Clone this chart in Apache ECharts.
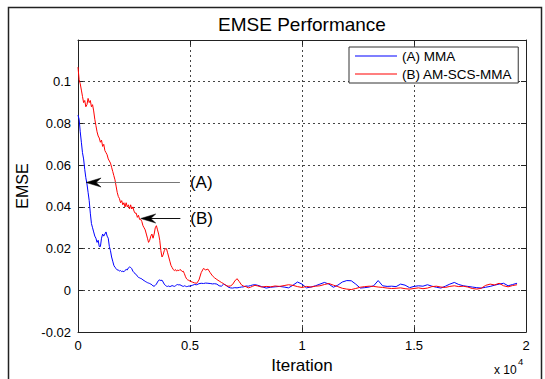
<!DOCTYPE html>
<html>
<head>
<meta charset="utf-8">
<script src="https://cdn.jsdelivr.net/npm/echarts@6/dist/echarts.min.js"></script>
<style>
html,body{margin:0;padding:0;background:#fff;}
#c{width:545px;height:379px;}
</style>
</head>
<body>
<div id="c"></div>
<script>
// ---------- DATA ----------
const iterations = [
  0,50,100,150,200,250,300,350,400,450,500,550,600,650,700,750,800,850,900,950,
  1000,1050,1100,1150,1200,1250,1300,1350,1400,1450,1500,1550,1600,1650,1700,1750,1800,1850,1900,1950,
  2000,2050,2100,2150,2200,2250,2300,2350,2400,2450,2500,2550,2600,2650,2700,2750,2800,2850,2900,2950,
  3000,3050,3100,3150,3200,3250,3300,3350,3400,3450,3500,3550,3600,3650,3700,3750,3800,3850,3900,3950,
  4000,4050,4100,4150,4200,4250,4300,4350,4400,4450,4500,4550,4600,4650,4700,4750,4800,4850,4900,4950,
  5000,5100,5200,5300,5400,5500,5600,5700,5800,5900,6000,6100,6200,6300,6400,6500,6600,6700,6800,6900,
  7000,7100,7200,7300,7400,7500,7600,7700,7800,7900,8000,
  8200,8400,8600,8800,9000,9200,9400,9600,9800,10000,10200,10400,10600,10800,11000,11200,11400,11600,11800,
  12000,12200,12400,12600,12800,13000,13200,13400,13600,13800,14000,14200,14400,14600,14800,15000,15200,15400,15600,15800,
  16000,16200,16400,16600,16800,17000,17200,17400,17600,17800,18000,18200,18400,18600,18800,19000,19200,19400,19600
];
// (A) MMA
const emseMMA = [
  0.084,0.082,0.076,0.071,0.066,0.063,0.058,0.054,0.051,0.047,0.043,0.037,0.032,0.030,0.028,0.026,0.025,0.023,0.024,0.021,
  0.021,0.025,0.027,0.026,0.027,0.028,0.026,0.025,0.021,0.019,0.016,0.014,0.012,0.011,0.0105,0.0098,0.0097,0.0093,0.0095,0.0090,
  0.0092,0.0089,0.0096,0.0100,0.0098,0.0108,0.0112,0.0110,0.0104,0.0092,0.0085,0.0080,0.0076,0.0068,0.0062,0.0060,0.0057,0.0055,0.0050,0.0047,
  0.0043,0.0040,0.0037,0.0035,0.0033,0.0030,0.0027,0.0021,0.0020,0.0024,0.0030,0.0040,0.0048,0.0050,0.0047,0.0049,0.0040,0.0030,0.0024,0.0020,
  0.0019,0.0021,0.0018,0.0020,0.0023,0.0021,0.0019,0.0022,0.0026,0.0028,0.0026,0.0027,0.0024,0.0021,0.0019,0.0022,0.0020,0.0018,0.0019,0.0021,
  0.0020,0.0024,0.0028,0.0027,0.0032,0.0034,0.0033,0.0035,0.0034,0.0033,0.0031,0.0032,0.0030,0.0022,0.0020,0.0030,0.0025,0.0016,0.0012,0.0011,
  0.0013,0.0012,0.0014,0.0016,0.0017,0.0021,0.0020,0.0023,0.0026,0.0027,0.0025,
  0.0018,0.0011,0.0015,0.0017,0.0019,0.0016,0.0012,0.0025,0.0040,0.0030,0.0012,0.0016,0.0022,0.0030,0.0038,0.0030,0.0015,0.0025,0.0040,
  0.0047,0.0046,0.0030,0.0011,0.0013,0.0016,0.0022,0.0047,0.0022,0.0019,0.0020,0.0018,0.0030,0.0025,0.0013,0.0019,0.0022,0.0020,0.0027,0.0020,
  0.0015,0.0011,0.0020,0.0030,0.0038,0.0028,0.0022,0.0019,0.0016,0.0013,0.0011,0.0015,0.0019,0.0025,0.0030,0.0034,0.0022,0.0028,0.0034
];
// (B) AM-SCS-MMA
const emseAMSCSMMA = [
  0.107,0.101,0.099,0.096,0.093,0.090,0.091,0.088,0.089,0.092,0.090,0.091,0.088,0.089,0.086,0.082,0.079,0.076,0.074,0.073,
  0.071,0.072,0.069,0.070,0.067,0.066,0.065,0.063,0.062,0.061,0.059,0.057,0.055,0.053,0.050,0.047,0.045,0.044,0.042,0.043,
  0.041,0.042,0.040,0.042,0.040,0.041,0.039,0.041,0.039,0.040,0.038,0.037,0.037,0.035,0.036,0.034,0.034,0.033,0.031,0.030,
  0.029,0.027,0.025,0.023,0.024,0.026,0.027,0.025,0.027,0.030,0.031,0.029,0.027,0.024,0.019,0.016,0.017,0.019,0.020,0.020,
  0.018,0.016,0.014,0.012,0.011,0.010,0.0095,0.010,0.0092,0.0098,0.0094,0.0100,0.0097,0.0090,0.0092,0.0080,0.0065,0.0055,0.0050,0.0048,
  0.0044,0.0040,0.0036,0.0034,0.0050,0.0085,0.0105,0.0098,0.0102,0.0085,0.0070,0.0060,0.0052,0.0045,0.0038,0.0032,0.0024,0.0020,0.0021,0.0028,
  0.0045,0.0056,0.0042,0.0026,0.0020,0.0018,0.0012,0.0015,0.0020,0.0024,0.0022,
  0.0016,0.0019,0.0017,0.0021,0.0019,0.0023,0.0027,0.0024,0.0018,0.0014,0.0019,0.0016,0.0020,0.0022,0.0028,0.0033,0.0025,0.0018,0.0010,
  0.0006,0.0004,0.0009,0.0015,0.0018,0.0020,0.0019,0.0016,0.0014,0.0011,0.0009,0.0010,0.0012,0.0008,0.0006,0.0009,0.0012,0.0008,0.0011,0.0018,
  0.0020,0.0016,0.0014,0.0019,0.0022,0.0018,0.0020,0.0016,0.0009,0.0006,0.0010,0.0024,0.0030,0.0026,0.0034,0.0022,0.0017,0.0023,0.0027
];
const seriesNames = ['(A) MMA', '(B) AM-SCS-MMA'];
const xTickValues = [0, 5000, 10000, 15000, 20000];
const xTickLabels = ['0', '0.5', '1', '1.5', '2'];
const yTickValues = [-0.02, 0, 0.02, 0.04, 0.06, 0.08, 0.1];
const yTickLabels = ['-0.02', '0', '0.02', '0.04', '0.06', '0.08', '0.1'];
// annotations: [label, tail x, tip x, y]
const annA = ['(A)', 4550, 360, 0.0518];
const annB = ['(B)', 4570, 2800, 0.0345];

// ---------- CHART ----------
const FONT = 'Liberation Sans, Arial, Helvetica, sans-serif';
const chart = echarts.init(document.getElementById('c'), null, {renderer: 'svg'});

function zip(xs, ys){ return xs.map((x,i)=>[x, ys[i]]); }
function xLab(v){ const i = xTickValues.findIndex(t=>Math.abs(t-v)<1e-6); return i<0?'':xTickLabels[i]; }
function yLab(v){ const i = yTickValues.findIndex(t=>Math.abs(t-v)<1e-9); return i<0?'':yTickLabels[i]; }

const gridLine = {show:true, lineStyle:{color:'#444', width:1, type:[2,3]}};
const axLine = {show:true, onZero:false, lineStyle:{color:'#222', width:1}};
const tick = {show:true, inside:true, length:5, lineStyle:{color:'#222'}};

chart.setOption({
  animation:false,
  backgroundColor:'#fff',
  textStyle:{fontFamily:FONT},
  grid:{left:78, top:40, width:448, height:297, containLabel:false},
  legend:{
    data:seriesNames, orient:'vertical', left:349, top:47,
    icon:'path://M0,0L84,0L84,2L0,2Z', symbolKeepAspect:true,
    itemWidth:42, itemHeight:14, itemGap:4,
    padding:[2,6,2,6],
    backgroundColor:'#fff', borderColor:'#333', borderWidth:1, borderRadius:0,
    textStyle:{fontFamily:FONT, fontSize:13.5, color:'#000'}
  },
  xAxis:[{
    type:'value', min:0, max:20000, interval:5000, position:'bottom',
    name:'Iteration', nameLocation:'middle', nameGap:20,
    nameTextStyle:{fontFamily:FONT, fontSize:17, color:'#000'},
    axisLine:axLine, axisTick:tick, splitLine:gridLine,
    axisLabel:{formatter:xLab, fontFamily:FONT, fontSize:13, color:'#000', margin:7}
  },{
    type:'value', min:0, max:20000, interval:5000, position:'top',
    axisLine:axLine, axisTick:tick, splitLine:{show:false}, axisLabel:{show:false}
  }],
  yAxis:[{
    type:'value', min:-0.02, max:0.12, interval:0.02, position:'left',
    name:'EMSE', nameLocation:'middle', nameGap:42, nameRotate:90,
    nameTextStyle:{fontFamily:FONT, fontSize:16, color:'#000'},
    axisLine:axLine, axisTick:tick, splitLine:gridLine,
    axisLabel:{formatter:yLab, fontFamily:FONT, fontSize:13, color:'#000', margin:7}
  },{
    type:'value', min:-0.02, max:0.12, interval:0.02, position:'right',
    axisLine:axLine, axisTick:tick, splitLine:{show:false}, axisLabel:{show:false}
  }],
  series:[{
    name:seriesNames[0], type:'line', data:zip(iterations, emseMMA),
    symbol:'none', lineStyle:{color:'#0000ff', width:1}, itemStyle:{color:'#0000ff'}, z:2
  },{
    name:seriesNames[1], type:'line', data:zip(iterations, emseAMSCSMMA),
    symbol:'none', lineStyle:{color:'#ff0000', width:1}, itemStyle:{color:'#ff0000'}, z:3
  }]
});

function arrowGraphics(ann, lineColor){
  const tail = chart.convertToPixel({xAxisIndex:0, yAxisIndex:0}, [ann[1], ann[3]]);
  const tip = chart.convertToPixel({xAxisIndex:0, yAxisIndex:0}, [ann[2], ann[3]]);
  const y = Math.round(tip[1]) + 0.5;
  return [
    {type:'line', shape:{x1:tail[0], y1:y, x2:tip[0]+8, y2:y}, style:{stroke:lineColor, lineWidth:1}, z:100},
    {type:'polygon', shape:{points:[[tip[0],y],[tip[0]+15,y-4.5],[tip[0]+10,y],[tip[0]+15,y+4.5]]},
     style:{fill:'#000', stroke:'#000', lineWidth:0.5}, z:101},
    {type:'text', x:tail[0]+10, y:y, z:102,
     style:{text:ann[0], fontFamily:FONT, fontSize:17, fill:'#000', textAlign:'left', textVerticalAlign:'middle'}}
  ];
}

chart.setOption({
  graphic:[
    {type:'rect', shape:{x:8.5, y:7.5, width:533, height:390}, style:{fill:'none', stroke:'#222', lineWidth:1.5}, z:0, silent:true},
    {type:'text', x:302, y:24, z:100,
     style:{text:'EMSE Performance', fontFamily:FONT, fontSize:19, fill:'#000', textAlign:'center', textVerticalAlign:'middle'}},
    {type:'text', x:494, y:376, z:100,
     style:{text:'x 10', fontFamily:FONT, fontSize:12, fill:'#000', textAlign:'left', textVerticalAlign:'bottom'}},
    {type:'text', x:518, y:366, z:100,
     style:{text:'4', fontFamily:FONT, fontSize:9.5, fill:'#000', textAlign:'left', textVerticalAlign:'bottom'}},
    ...arrowGraphics(annA, '#777'),
    ...arrowGraphics(annB, '#111')
  ]
});
</script>
</body>
</html>
